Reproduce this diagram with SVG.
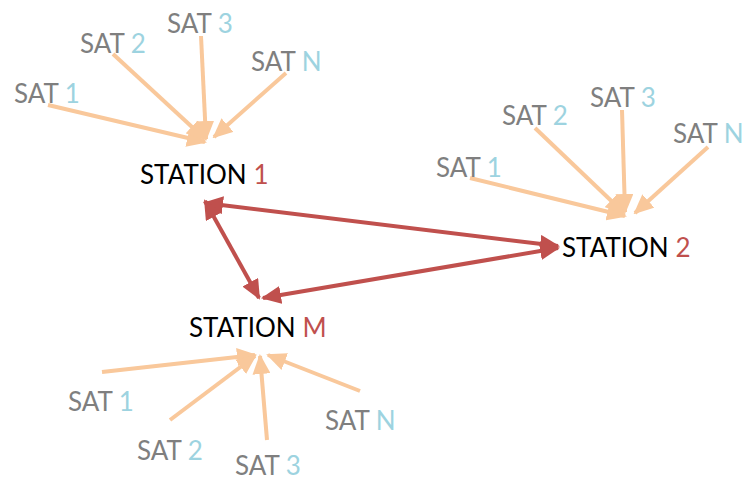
<svg xmlns="http://www.w3.org/2000/svg" width="743" height="482" viewBox="0 0 743 482">
<style>
text{font-family:Lato,"Open Sans",sans-serif;font-size:26px}
.g{fill:#7f7f7f}.b{fill:#9dd3e0}.k{fill:#000}.r{fill:#c0504d}
.sat{stroke:#f9c89b;stroke-width:4;fill:none;marker-end:url(#oa)}
.link{stroke:#c0504d;stroke-width:4;fill:none;marker-start:url(#ra);marker-end:url(#ra)}
</style>
<defs>
<marker id="oa" markerUnits="userSpaceOnUse" viewBox="0 0 20 18" refX="18" refY="9" markerWidth="20" markerHeight="18" orient="auto"><path d="M0,0 L20,9 L0,18 z" fill="#f9c89b"/></marker>
<marker id="ra" markerUnits="userSpaceOnUse" viewBox="0 0 20 18" refX="18" refY="9" markerWidth="20" markerHeight="18" orient="auto-start-reverse"><path d="M0,0 L20,9 L0,18 z" fill="#c0504d"/></marker>
</defs>
<g id="connectors">
<line class="sat" x1="48" y1="105" x2="205" y2="142"/>
<line class="sat" x1="113" y1="54" x2="205" y2="139"/>
<line class="sat" x1="201" y1="36" x2="206" y2="139"/>
<line class="sat" x1="286" y1="73" x2="214" y2="137"/>
<line class="sat" x1="470" y1="178" x2="625" y2="216"/>
<line class="sat" x1="535" y1="128" x2="624" y2="213"/>
<line class="sat" x1="622" y1="110" x2="625" y2="212"/>
<line class="sat" x1="708" y1="147" x2="635" y2="213"/>
<line class="sat" x1="102" y1="372" x2="255" y2="355"/>
<line class="sat" x1="170" y1="420" x2="255" y2="356"/>
<line class="sat" x1="267" y1="440" x2="260" y2="356"/>
<line class="sat" x1="360" y1="391" x2="268" y2="355"/>
<line class="link" x1="205" y1="203" x2="558" y2="246"/>
<line class="link" x1="205" y1="201" x2="259" y2="298"/>
<line class="link" x1="558" y1="248" x2="263" y2="298"/>
</g>
<g id="station1"><text x="140" y="184"><tspan class="k">STATION </tspan><tspan class="r">1</tspan></text></g>
<g id="station2"><text x="562" y="257"><tspan class="k">STATION </tspan><tspan class="r">2</tspan></text></g>
<g id="stationM"><text x="189" y="337"><tspan class="k">STATION </tspan><tspan class="r">M</tspan></text></g>
<g id="s1-sat1"><text x="14" y="103"><tspan class="g">SAT </tspan><tspan class="b">1</tspan></text></g>
<g id="s1-sat2"><text x="80" y="53"><tspan class="g">SAT </tspan><tspan class="b">2</tspan></text></g>
<g id="s1-sat3"><text x="167" y="33"><tspan class="g">SAT </tspan><tspan class="b">3</tspan></text></g>
<g id="s1-satN"><text x="251" y="71"><tspan class="g">SAT </tspan><tspan class="b">N</tspan></text></g>
<g id="s2-sat1"><text x="436" y="177"><tspan class="g">SAT </tspan><tspan class="b">1</tspan></text></g>
<g id="s2-sat2"><text x="502" y="125"><tspan class="g">SAT </tspan><tspan class="b">2</tspan></text></g>
<g id="s2-sat3"><text x="590" y="107"><tspan class="g">SAT </tspan><tspan class="b">3</tspan></text></g>
<g id="s2-satN"><text x="673" y="143"><tspan class="g">SAT </tspan><tspan class="b">N</tspan></text></g>
<g id="sM-sat1"><text x="68" y="411"><tspan class="g">SAT </tspan><tspan class="b">1</tspan></text></g>
<g id="sM-sat2"><text x="137" y="460"><tspan class="g">SAT </tspan><tspan class="b">2</tspan></text></g>
<g id="sM-sat3"><text x="235" y="475"><tspan class="g">SAT </tspan><tspan class="b">3</tspan></text></g>
<g id="sM-satN"><text x="325" y="430"><tspan class="g">SAT </tspan><tspan class="b">N</tspan></text></g>
</svg>
